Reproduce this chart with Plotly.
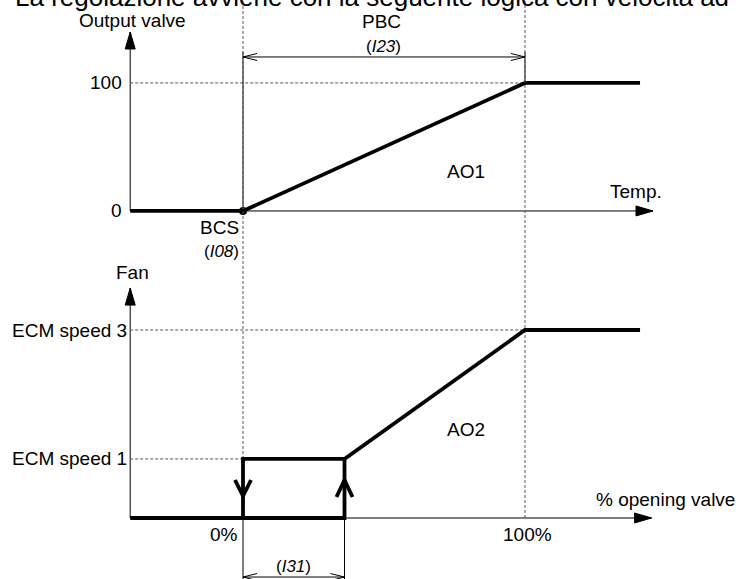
import plotly.graph_objects as go

# ---------------- data (diagram values) ----------------
BCS = 0.0            # band start (temp axis, % of PBC)
PBC = 100.0          # proportional band
I31 = 36.0           # hysteresis width (% opening valve)
TEMP_MIN, TEMP_MAX = -40.0, 145.4
LINE_END = 140.8
OUT_AXIS_TOP = 139.8
PBC_DIM_Y = 120.3
EXT_TOP = 124.2

temp_x = [TEMP_MIN, BCS, BCS + PBC, LINE_END]
output_y = [0.0, 0.0, 100.0, 100.0]
out_ticks = [0.0, 100.0]
out_tick_labels = ["0", "100"]

SPEED1 = 31.4
SPEED3 = 100.0
FAN_AXIS_TOP = 122.3
I31_DIM_Y = -31.4
VALVE_MIN, VALVE_MAX = -40.0, 144.9
valve_rise_x = [VALVE_MIN, I31, I31, 100.0, LINE_END]
fan_rise_y = [0.0, 0.0, SPEED1, SPEED3, SPEED3]
valve_fall_x = [0.0, 0.0, I31]
fan_fall_y = [0.0, SPEED1, SPEED1]
fan_ticks = [SPEED1, SPEED3]
fan_tick_labels = ["ECM speed 1", "ECM speed 3"]
valve_ticks = [0.0, 100.0]
valve_tick_labels = ["0%", "100%"]

TITLE = "La regolazione avviene con la seguente logica con velocita ad"

# ---------------- styling ----------------
FONT = "Liberation Sans, Arial, sans-serif"
FS = 19
FS_CODE = 17
THICK = 3.8
DASH = dict(color="#555555", width=1, dash="3px,2px")
THIN = dict(color="black", width=1)

fig = go.Figure()


def seg(xs, ys, line, yax="y"):
    fig.add_trace(go.Scatter(x=xs, y=ys, mode="lines", line=line, yaxis=yax,
                             hoverinfo="skip", showlegend=False))


# ---- top panel ----
seg([TEMP_MIN, TEMP_MIN], [0, OUT_AXIS_TOP], THIN)
seg([TEMP_MIN, TEMP_MAX], [0, 0], THIN)
seg([TEMP_MIN, BCS + PBC], [100, 100], DASH)
seg([BCS, BCS + PBC], [PBC_DIM_Y, PBC_DIM_Y], THIN)

# ---- bottom panel ----
seg([VALVE_MIN, VALVE_MIN], [0, FAN_AXIS_TOP], THIN, "y2")
seg([VALVE_MIN, VALVE_MAX], [0, 0], THIN, "y2")
seg([VALVE_MIN, 100], [SPEED3, SPEED3], DASH, "y2")
seg([VALVE_MIN, 0], [SPEED1, SPEED1], DASH, "y2")
seg([0, 0], [0, -40], THIN, "y2")
seg([I31, I31], [0, -40], THIN, "y2")
seg([0, I31], [I31_DIM_Y, I31_DIM_Y], THIN, "y2")

# vertical dashed links running from the bottom panel up into the top panel
seg([0, 0], [SPEED1, 275], DASH, "y2")
seg([100, 100], [0, 275], DASH, "y2")
# solid extension lines of the PBC dimension in the top panel
seg([BCS, BCS], [0, EXT_TOP], THIN)
seg([BCS + PBC, BCS + PBC], [100, EXT_TOP], THIN)

# thick characteristic curves
seg(temp_x, output_y, dict(color="black", width=THICK))
fig.add_trace(go.Scatter(x=[BCS], y=[0], mode="markers",
                         marker=dict(color="black", size=8), showlegend=False,
                         hoverinfo="skip"))
seg(valve_rise_x, fan_rise_y, dict(color="black", width=THICK), "y2")
seg(valve_fall_x, fan_fall_y, dict(color="black", width=THICK), "y2")

shapes = []


def pix_path(x, y, path, yref="y", filled=False, width=1):
    shapes.append(dict(type="path", xref="x", yref=yref, xsizemode="pixel",
                       ysizemode="pixel", xanchor=x, yanchor=y, path=path,
                       line=dict(color="black", width=width),
                       fillcolor="black" if filled else "rgba(0,0,0,0)"))


# filled axis arrowheads
pix_path(TEMP_MIN, OUT_AXIS_TOP, "M 0 0 L -5 -17 L 5 -17 Z", filled=True)
pix_path(TEMP_MAX, 0, "M 0 0 L -17 5 L -17 -5 Z", filled=True)
pix_path(VALVE_MIN, FAN_AXIS_TOP, "M 0 0 L -5 -17 L 5 -17 Z", yref="y2", filled=True)
pix_path(VALVE_MAX, 0, "M 0 0 L -17 5 L -17 -5 Z", yref="y2", filled=True)
# open dimension arrowheads
pix_path(BCS, PBC_DIM_Y, "M 14 3.5 L 0 0 L 14 -3.5")
pix_path(BCS + PBC, PBC_DIM_Y, "M -14 3.5 L 0 0 L -14 -3.5")
pix_path(0, I31_DIM_Y, "M 14 3.5 L 0 0 L 14 -3.5", yref="y2")
pix_path(I31, I31_DIM_Y, "M -14 3.5 L 0 0 L -14 -3.5", yref="y2")
# hysteresis direction chevrons
mid = SPEED1 / 2
pix_path(0, mid, "M -8 8.5 L 0 -7.5 L 8 8.5", yref="y2", width=THICK)
pix_path(I31, mid, "M -8 -8.5 L 0 8.5 L 8 -8.5", yref="y2", width=THICK)

ann = []


def label(text, x, y, yref="y", xanchor="center", xshift=0, yshift=0, size=FS):
    ann.append(dict(text=text, x=x, y=y, xref="x", yref=yref, xanchor=xanchor,
                    yanchor="middle", xshift=xshift, yshift=yshift, showarrow=False,
                    font=dict(family=FONT, size=size, color="black")))


label("Output valve", TEMP_MIN, OUT_AXIS_TOP, yshift=12, xshift=2)
for v, t in zip(out_ticks, out_tick_labels):
    label(t, TEMP_MIN, v, xanchor="right", xshift=-6)
label("PBC", (BCS + BCS + PBC) / 2, PBC_DIM_Y, yshift=35, xshift=-2)
label("(<i>I23</i>)", (BCS + BCS + PBC) / 2, PBC_DIM_Y, yshift=10, size=FS_CODE)
label("BCS", BCS, 0, xanchor="right", xshift=-2, yshift=-17)
label("(<i>I08</i>)", BCS, 0, xanchor="right", xshift=-2, yshift=-41, size=FS_CODE)
label("AO1", 79, 30.5)
label("Temp.", TEMP_MAX, 0, xshift=-17, yshift=19)

label("Fan", VALVE_MIN, FAN_AXIS_TOP, yref="y2", yshift=16, xshift=2)
for v, t in zip(fan_ticks, fan_tick_labels):
    label(t, VALVE_MIN, v, yref="y2", xanchor="right", xshift=-1)
label("AO2", 79, 47, yref="y2")
label("% opening valve", VALVE_MAX, 0, yref="y2", xshift=14, yshift=18)
label(valve_tick_labels[0], valve_ticks[0], 0, yref="y2", xanchor="right", xshift=-3, yshift=-17)
label(valve_tick_labels[1], valve_ticks[1], 0, yref="y2", xshift=3, yshift=-17)
label("(<i>I31</i>)", I31 / 2, 0, yref="y2", yshift=-49, size=FS_CODE)

ann.append(dict(text=TITLE, x=13 / 741, y=1 - 14 / 579, xref="paper", yref="paper",
                xanchor="left", yanchor="bottom", showarrow=False,
                font=dict(family=FONT, size=26, color="black")))

fig.update_layout(
    width=741, height=579, margin=dict(l=0, r=0, t=0, b=0),
    paper_bgcolor="white", plot_bgcolor="white", showlegend=False,
    xaxis=dict(range=[-86.17, 176.60], visible=False, fixedrange=True),
    yaxis=dict(range=[-287.5, 164.8], visible=False, fixedrange=True),
    yaxis2=dict(range=[-32.45, 275.53], visible=False, fixedrange=True,
                overlaying="y"),
    shapes=shapes, annotations=ann,
)

fig.write_html("out.html", config={"displayModeBar": False},
               post_script="document.body.style.margin='0';document.body.style.overflow='hidden';")
